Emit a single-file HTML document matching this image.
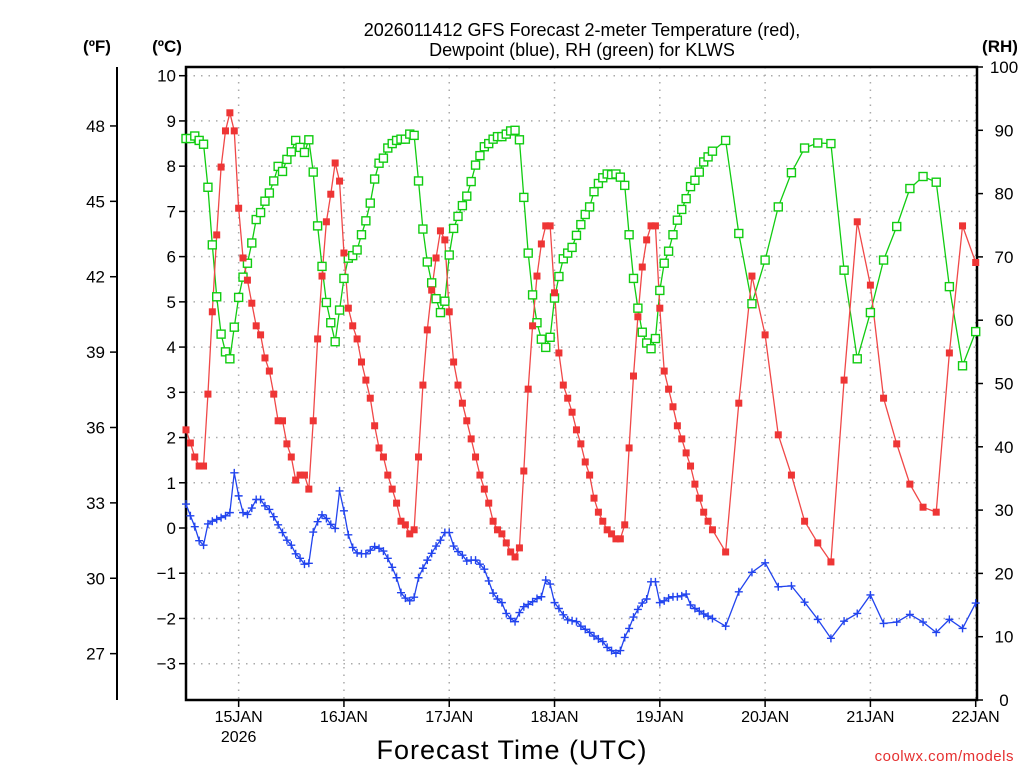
<!DOCTYPE html>
<html><head><meta charset="utf-8">
<style>
html,body{margin:0;padding:0;background:#fff;}
svg{display:block;font-family:"Liberation Sans",sans-serif;}
</style></head>
<body>
<svg id="chart" width="1024" height="768" viewBox="0 0 1024 768" xmlns="http://www.w3.org/2000/svg">
<text x="582" y="36" font-size="18" text-anchor="middle" fill="#000">2026011412 GFS Forecast 2-meter Temperature (red),</text>
<text x="582" y="56" font-size="18" text-anchor="middle" fill="#000">Dewpoint (blue), RH (green) for KLWS</text>
<text x="97" y="52" font-size="17" font-weight="bold" text-anchor="middle">(ºF)</text>
<text x="167" y="52" font-size="17" font-weight="bold" text-anchor="middle">(ºC)</text>
<text x="1000" y="52" font-size="17" font-weight="bold" text-anchor="middle">(RH)</text>
<text x="512" y="759" font-size="27" text-anchor="middle" letter-spacing="1">Forecast Time (UTC)</text>
<text x="1014" y="761" font-size="15" text-anchor="end" fill="#e53030" letter-spacing="0.5">coolwx.com/models</text>
<g id="grid"></g><g id="axes"></g><g id="series"></g>
</svg>
<script>
const hours=[0,1,2,3,4,5,6,7,8,9,10,11,12,13,14,15,16,17,18,19,20,21,22,23,24,25,26,27,28,29,30,31,32,33,34,35,36,37,38,39,40,41,42,43,44,45,46,47,48,49,50,51,52,53,54,55,56,57,58,59,60,61,62,63,64,65,66,67,68,69,70,71,72,73,74,75,76,77,78,79,80,81,82,83,84,85,86,87,88,89,90,91,92,93,94,95,96,97,98,99,100,101,102,103,104,105,106,107,108,109,110,111,112,113,114,115,116,117,118,119,120,123,126,129,132,135,138,141,144,147,150,153,156,159,162,165,168,171,174,177,180];
const tempC=[2.17,1.88,1.57,1.37,1.37,2.96,4.78,6.48,7.98,8.78,9.18,8.78,7.07,5.97,5.48,4.97,4.47,4.27,3.76,3.47,2.96,2.37,2.37,1.86,1.57,1.06,1.17,1.17,0.86,2.37,4.18,5.57,6.77,7.38,8.07,7.67,6.08,4.86,4.47,4.18,3.67,3.27,2.87,2.26,1.77,1.57,1.17,0.86,0.55,0.15,0.07,-0.13,-0.04,1.57,3.16,4.38,5.26,5.97,6.57,6.37,4.78,3.67,3.16,2.76,2.37,1.97,1.57,1.17,0.86,0.55,0.15,-0.04,-0.13,-0.33,-0.53,-0.64,-0.44,1.26,3.07,4.47,5.57,6.28,6.68,6.68,5.2,3.87,3.16,2.87,2.56,2.17,1.86,1.46,1.17,0.66,0.35,0.15,-0.04,-0.13,-0.24,-0.24,0.07,1.77,3.36,4.67,5.77,6.37,6.68,6.68,4.86,3.47,3.07,2.68,2.26,1.97,1.66,1.37,0.97,0.66,0.35,0.15,-0.04,-0.53,2.76,5.57,4.27,2.06,1.17,0.15,-0.33,-0.75,3.27,6.77,5.37,2.87,1.86,0.97,0.46,0.35,3.87,6.68,5.87];
const dewC=[0.53,0.27,0.03,-0.28,-0.38,0.09,0.15,0.19,0.23,0.27,0.34,1.22,0.71,0.34,0.30,0.44,0.63,0.63,0.49,0.41,0.25,0.07,-0.10,-0.27,-0.38,-0.57,-0.67,-0.80,-0.78,-0.09,0.14,0.29,0.21,0.08,-0.01,0.82,0.38,-0.15,-0.43,-0.55,-0.57,-0.57,-0.49,-0.41,-0.45,-0.51,-0.67,-0.87,-1.10,-1.43,-1.55,-1.61,-1.53,-1.10,-0.89,-0.71,-0.56,-0.40,-0.27,-0.10,-0.10,-0.40,-0.52,-0.60,-0.73,-0.71,-0.71,-0.80,-0.91,-1.17,-1.44,-1.57,-1.65,-1.89,-2.00,-2.07,-1.87,-1.74,-1.69,-1.63,-1.56,-1.52,-1.15,-1.24,-1.65,-1.78,-1.92,-2.03,-2.05,-2.07,-2.17,-2.24,-2.31,-2.39,-2.45,-2.51,-2.64,-2.71,-2.77,-2.71,-2.42,-2.22,-1.97,-1.80,-1.66,-1.57,-1.19,-1.19,-1.65,-1.61,-1.55,-1.52,-1.52,-1.50,-1.46,-1.70,-1.78,-1.84,-1.90,-1.95,-2.00,-2.17,-1.41,-0.98,-0.77,-1.30,-1.28,-1.64,-2.02,-2.44,-2.06,-1.89,-1.48,-2.11,-2.08,-1.91,-2.08,-2.31,-2.02,-2.22,-1.66];
const rhPct=[88.7,88.7,89.1,88.4,87.8,81.0,71.9,63.7,57.8,55.0,53.9,58.9,63.6,66.8,69.0,72.2,75.9,77.0,78.8,80.1,82.0,84.3,83.5,85.4,86.6,88.4,87.3,86.5,88.5,83.4,74.9,68.5,62.8,59.6,56.6,61.6,66.6,69.8,70.2,71.1,73.5,75.7,78.5,82.3,84.8,85.6,87.2,87.9,88.4,88.6,88.6,89.4,89.2,82.0,74.4,69.2,65.9,63.4,61.2,63.0,70.3,74.5,76.4,78.1,79.6,81.9,84.5,86.0,87.4,87.9,88.6,89.0,89.0,89.4,89.9,90.0,88.5,79.4,70.6,64.0,59.6,57.0,55.7,57.3,63.5,66.9,69.7,70.6,71.5,73.4,75.1,76.7,77.9,80.3,81.6,82.5,83.1,83.0,83.1,82.6,81.3,73.5,66.6,61.9,58.1,56.4,55.5,57.1,64.7,69.0,70.9,73.5,75.8,77.5,79.2,81.1,82.1,83.4,85.0,85.8,86.7,88.4,73.7,62.6,69.5,77.9,83.3,87.2,88.0,87.9,67.9,53.9,61.2,69.5,74.8,80.8,82.7,81.8,65.3,52.8,58.2];
const cTicks=[10,9,8,7,6,5,4,3,2,1,0,-1,-2,-3];
const fTicks=[48,45,42,39,36,33,30,27];
const rhTicks=[100,90,80,70,60,50,40,30,20,10,0];
const dayLabels=["15JAN","16JAN","17JAN","18JAN","19JAN","20JAN","21JAN","22JAN"];
const dayHours=[12,36,60,84,108,132,156,180];

const NS="http://www.w3.org/2000/svg";
const L=186,R=977,T=67,B=700;
const xS=h=>L+(h/180)*(975.7-L);
const yC=c=>528-c*45.23;
const yRH=r=>B-r*(B-T)/100;
const yF=f=>yC((f-32)*5/9);
function mk(tag,attrs,parent,text){const e=document.createElementNS(NS,tag);for(const k in attrs)e.setAttribute(k,attrs[k]);if(text!==undefined)e.textContent=text;parent.appendChild(e);return e;}
const grid=document.getElementById('grid'),axes=document.getElementById('axes'),series=document.getElementById('series');

cTicks.forEach(c=>{
  const y=yC(c);
  const g=mk('line',{x1:L,x2:R,y1:y,y2:y,stroke:'#aaa','stroke-width':1.5,'stroke-dasharray':'1.5 6'},grid);
  
  
  const t=mk('line',{x1:L-7,x2:L,y1:y,y2:y,stroke:'#000','stroke-width':1.5},axes);
  
  
  const lb=mk('text',{x:L-10,y:y+6,'font-size':17,'text-anchor':'end'},axes,String(c).replace('-','\u2212'));
  
  
});
dayHours.forEach((h,i)=>{
  const x=xS(h);
  const g=mk('line',{x1:x,x2:x,y1:T,y2:B,stroke:'#aaa','stroke-width':1.5,'stroke-dasharray':'1.5 6'},grid);
  
  
  const t=mk('line',{x1:x,x2:x,y1:B,y2:B+7,stroke:'#000','stroke-width':1.5},axes);
  
  
  const lb=mk('text',{x:x,y:B+22,'font-size':16,'text-anchor':'middle'},axes,dayLabels[i]);
  
  
});
const yr=mk('text',{x:xS(12),y:B+42,'font-size':16,'text-anchor':'middle'},axes,'2026');



const fl=mk('line',{x1:117,x2:117,y1:T,y2:B,stroke:'#000','stroke-width':2},axes);


fTicks.forEach(f=>{
  const y=yF(f);
  const t=mk('line',{x1:110,x2:117,y1:y,y2:y,stroke:'#000','stroke-width':1.5},axes);
  
  
  const lb=mk('text',{x:105,y:y+6,'font-size':17,'text-anchor':'end'},axes,String(f));
  
  
});
rhTicks.forEach(r=>{
  const y=yRH(r);
  const t=mk('line',{x1:R,x2:R+6,y1:y,y2:y,stroke:'#000','stroke-width':1.5},axes);
  
  
  const lb=mk('text',{x:1004,y:y+6,'font-size':17,'text-anchor':'middle'},axes,String(r));
  
  
});
const frame=mk('rect',{x:L,y:T,width:R-L,height:B-T,fill:'none',stroke:'#000','stroke-width':2.5},axes);



function pts(vals,yf){return hours.map((h,i)=>[xS(h),yf(vals[i])]);}
// RH
const gp=pts(rhPct,yRH);
const gl=mk('polyline',{points:gp.map(p=>p.join(',')).join(' '),fill:'none',stroke:'#11cc11','stroke-width':1.3},series);


// Temp
const rp=pts(tempC,yC);
const rl=mk('polyline',{points:rp.map(p=>p.join(',')).join(' '),fill:'none',stroke:'#f04848','stroke-width':1.3},series);


// Dew
const bp=pts(dewC,yC);
const bl=mk('polyline',{points:bp.map(p=>p.join(',')).join(' '),fill:'none',stroke:'#2244ee','stroke-width':1.3},series);


gp.forEach(p=>{
  const m=mk('rect',{x:p[0]-4,y:p[1]-4,width:8,height:8,fill:'#fff',stroke:'#11cc11','stroke-width':1.4},series);
  
  
});
rp.forEach(p=>{
  const m=mk('rect',{x:p[0]-3.5,y:p[1]-3.5,width:7,height:7,fill:'#ee3535'},series);
  
  
});
bp.forEach(p=>{
  const m=mk('path',{d:`M${p[0]-4},${p[1]}H${p[0]+4}M${p[0]},${p[1]-4}V${p[1]+4}`,stroke:'#2244ee','stroke-width':1.4,fill:'none'},series);
  
  
});
</script>
</body></html>
